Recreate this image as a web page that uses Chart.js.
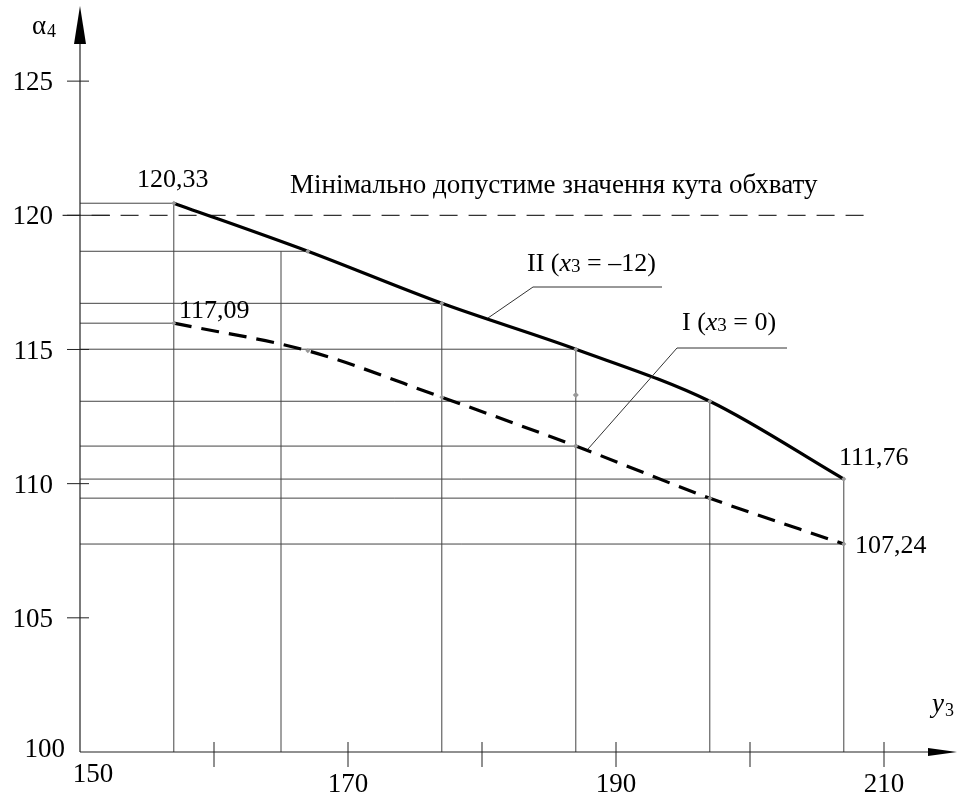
<!DOCTYPE html>
<html>
<head>
<meta charset="utf-8">
<script src="https://cdn.jsdelivr.net/npm/chart.js@4"></script>
<style>
  body { margin: 0; background: #fff; font-family: "Liberation Serif", serif; }
  canvas { display: block; }
  .probe { position: absolute; left: -9999px; font-family: "Liberation Serif"; }
</style>
</head>
<body>
<span class="probe">0 Мінімально</span>
<canvas id="angleChart" width="960" height="796"></canvas>
<script>
// y3 values where the curves were computed
const y3Values = [157, 167, 177, 187, 197, 207];
// curve II (x3 = -12) and curve I (x3 = 0)
const curveII = [120.45, 118.66, 116.72, 115.01, 113.07, 110.17];
const curveI = [115.98, 114.95, 113.22, 111.40, 109.46, 107.75];

// minimum allowed wrap angle
const minAngle = 120;
const minAngleSpan = [148.7, 209.0];

// projection lines drawn to the axes
const vGuideX = [157, 165, 177, 187, 197, 207];
const vGuideTop = [120.45, 118.66, 116.72, 115.01, 113.07, 110.17];
const hGuideY = [120.45, 118.66, 116.72, 115.98, 115.01, 113.07, 111.40, 110.17, 109.46, 107.75];
const hGuideEnd = [157, 167, 177, 157, 187, 197, 187, 207, 197, 207];

// stray marker left on the drawing
const strayX = [187];
const strayY = [113.3];

// axis ticks and labels
const xTicks = [160, 170, 180, 190, 200, 210];
const xTickLabels = [150, 170, 190, 210];
const yTicks = [105, 110, 115, 120, 125];
const yTickLabels = [100, 105, 110, 115, 120, 125];

// value labels
const valueLabels = ['120,33', '117,09', '111,76', '107,24'];
const minAngleText = 'Мінімально допустиме значення кута обхвату';

const SERIF = '"Liberation Serif", "Times New Roman", Tinos, "DejaVu Serif", serif';

function toPoints(xs, ys) {
  return xs.map((x, i) => ({ x: x, y: ys[i] }));
}

const guideSets = [];
vGuideX.forEach((x, i) => {
  guideSets.push({
    data: [{ x: x, y: 100 }, { x: x, y: vGuideTop[i] }],
    borderColor: '#444', borderWidth: 1, pointRadius: 0, tension: 0
  });
});
hGuideY.forEach((y, i) => {
  guideSets.push({
    data: [{ x: 150, y: y }, { x: hGuideEnd[i], y: y }],
    borderColor: '#444', borderWidth: 1, pointRadius: 0, tension: 0
  });
});

// axes, arrows, ticks and text
const drawingPlugin = {
  id: 'drawing',
  afterDatasetsDraw(chart) {
    const ctx = chart.ctx;
    const xs = chart.scales.x, ys = chart.scales.y;
    const x0 = xs.getPixelForValue(150), y0 = ys.getPixelForValue(100);
    ctx.save();
    ctx.strokeStyle = '#222';
    ctx.fillStyle = '#000';
    ctx.lineWidth = 1.2;

    // y axis with arrow
    ctx.beginPath();
    ctx.moveTo(x0, y0);
    ctx.lineTo(x0, 30);
    ctx.stroke();
    ctx.beginPath();
    ctx.moveTo(x0, 6);
    ctx.lineTo(x0 + 6, 44);
    ctx.lineTo(x0 - 6, 44);
    ctx.closePath();
    ctx.fill();

    // x axis with arrow
    ctx.beginPath();
    ctx.moveTo(x0, y0);
    ctx.lineTo(935, y0);
    ctx.stroke();
    ctx.beginPath();
    ctx.moveTo(957, y0);
    ctx.lineTo(928, y0 - 4);
    ctx.lineTo(928, y0 + 4);
    ctx.closePath();
    ctx.fill();

    // ticks
    ctx.lineWidth = 1;
    xTicks.forEach(v => {
      const px = xs.getPixelForValue(v);
      ctx.beginPath();
      ctx.moveTo(px, y0 - 10);
      ctx.lineTo(px, y0 + 15);
      ctx.stroke();
    });
    yTicks.forEach(v => {
      const py = ys.getPixelForValue(v);
      ctx.beginPath();
      ctx.moveTo(x0 - 13, py);
      ctx.lineTo(x0 + (v === 120 ? 30 : 9), py);
      ctx.stroke();
    });

    // tick labels
    ctx.font = '27px ' + SERIF;
    ctx.textBaseline = 'middle';
    ctx.textAlign = 'center';
    xTickLabels.forEach(v => {
      let px = xs.getPixelForValue(v), py = 785;
      if (v === 150) { px += 13; py = 775; }
      ctx.fillText(String(v), px, py);
    });
    ctx.textAlign = 'right';
    yTickLabels.forEach(v => {
      let py = ys.getPixelForValue(v), px = 53;
      if (v === 100) { px = 65; py -= 4; }
      ctx.fillText(String(v), px, py + 2);
    });

    // axis titles
    ctx.textAlign = 'left';
    ctx.font = '27px ' + SERIF;
    ctx.fillText('α', 32, 27);
    ctx.font = '18px ' + SERIF;
    ctx.fillText('4', 47, 32);
    ctx.font = 'italic 27px ' + SERIF;
    ctx.fillText('y', 932, 705);
    ctx.font = '18px ' + SERIF;
    ctx.fillText('3', 945, 711);

    // value labels
    ctx.font = '26px ' + SERIF;
    ctx.textAlign = 'left';
    ctx.fillText(valueLabels[0], 137, 180);
    ctx.fillText(valueLabels[1], 179, 311);
    ctx.fillText(valueLabels[2], 839, 458);
    ctx.fillText(valueLabels[3], 855, 546);

    // minimum line caption
    ctx.font = '27px ' + SERIF;
    ctx.fillText(minAngleText, 290, 186);

    // curve captions with leader lines
    function runs(parts, x, y) {
      parts.forEach(p => {
        ctx.font = p[1];
        ctx.fillText(p[0], x, y + (p[2] || 0));
        x += ctx.measureText(p[0]).width;
      });
    }
    const normal = '26px ' + SERIF, ital = 'italic 26px ' + SERIF, sub = '19px ' + SERIF;
    runs([['II (', normal], ['x', ital], ['3', sub, 3], [' = –12)', normal]], 527, 264);
    runs([['I (', normal], ['x', ital], ['3', sub, 3], [' = 0)', normal]], 682, 323);

    ctx.strokeStyle = '#333';
    ctx.lineWidth = 1;
    ctx.beginPath();
    ctx.moveTo(662, 287);
    ctx.lineTo(533, 287);
    ctx.lineTo(488, 318);
    ctx.stroke();
    ctx.beginPath();
    ctx.moveTo(787, 348);
    ctx.lineTo(677, 348);
    ctx.lineTo(588, 449);
    ctx.stroke();

    ctx.restore();
  }
};

function buildChart() {
  new Chart(document.getElementById('angleChart'), {
    type: 'line',
    data: {
      datasets: [
        {
          label: 'II (x3 = -12)',
          data: toPoints(y3Values, curveII),
          borderColor: '#000',
          borderWidth: 3.2,
          cubicInterpolationMode: 'monotone',
          pointRadius: 2.5,
          pointStyle: 'rectRot',
          pointBackgroundColor: '#999',
          pointBorderWidth: 0
        },
        {
          label: 'I (x3 = 0)',
          data: toPoints(y3Values, curveI),
          borderColor: '#000',
          borderWidth: 3.2,
          borderDash: [18, 10],
          cubicInterpolationMode: 'monotone',
          pointRadius: 2.5,
          pointStyle: 'rectRot',
          pointBackgroundColor: '#999',
          pointBorderWidth: 0
        },
        {
          label: 'stray',
          data: toPoints(strayX, strayY),
          showLine: false,
          pointRadius: 3,
          pointStyle: 'rectRot',
          pointBackgroundColor: '#999',
          pointBorderWidth: 0
        },
        {
          label: 'min',
          data: [{ x: minAngleSpan[0], y: minAngle }, { x: minAngleSpan[1], y: minAngle }],
          borderColor: '#333',
          borderWidth: 1.2,
          borderDash: [18, 11],
          pointRadius: 0,
          clip: false
        },
        ...guideSets
      ]
    },
    options: {
      responsive: false,
      animation: false,
      layout: { padding: { left: 80, right: 9, top: 6, bottom: 44 } },
      plugins: {
        legend: { display: false },
        tooltip: { enabled: false }
      },
      scales: {
        x: { type: 'linear', min: 150, max: 215, display: false },
        y: { type: 'linear', min: 100, max: 127.8, display: false }
      }
    },
    plugins: [drawingPlugin]
  });
}

Promise.all([
  document.fonts.load('26px "Liberation Serif"'),
  document.fonts.load('italic 26px "Liberation Serif"')
]).then(buildChart, buildChart);
</script>
</body>
</html>
